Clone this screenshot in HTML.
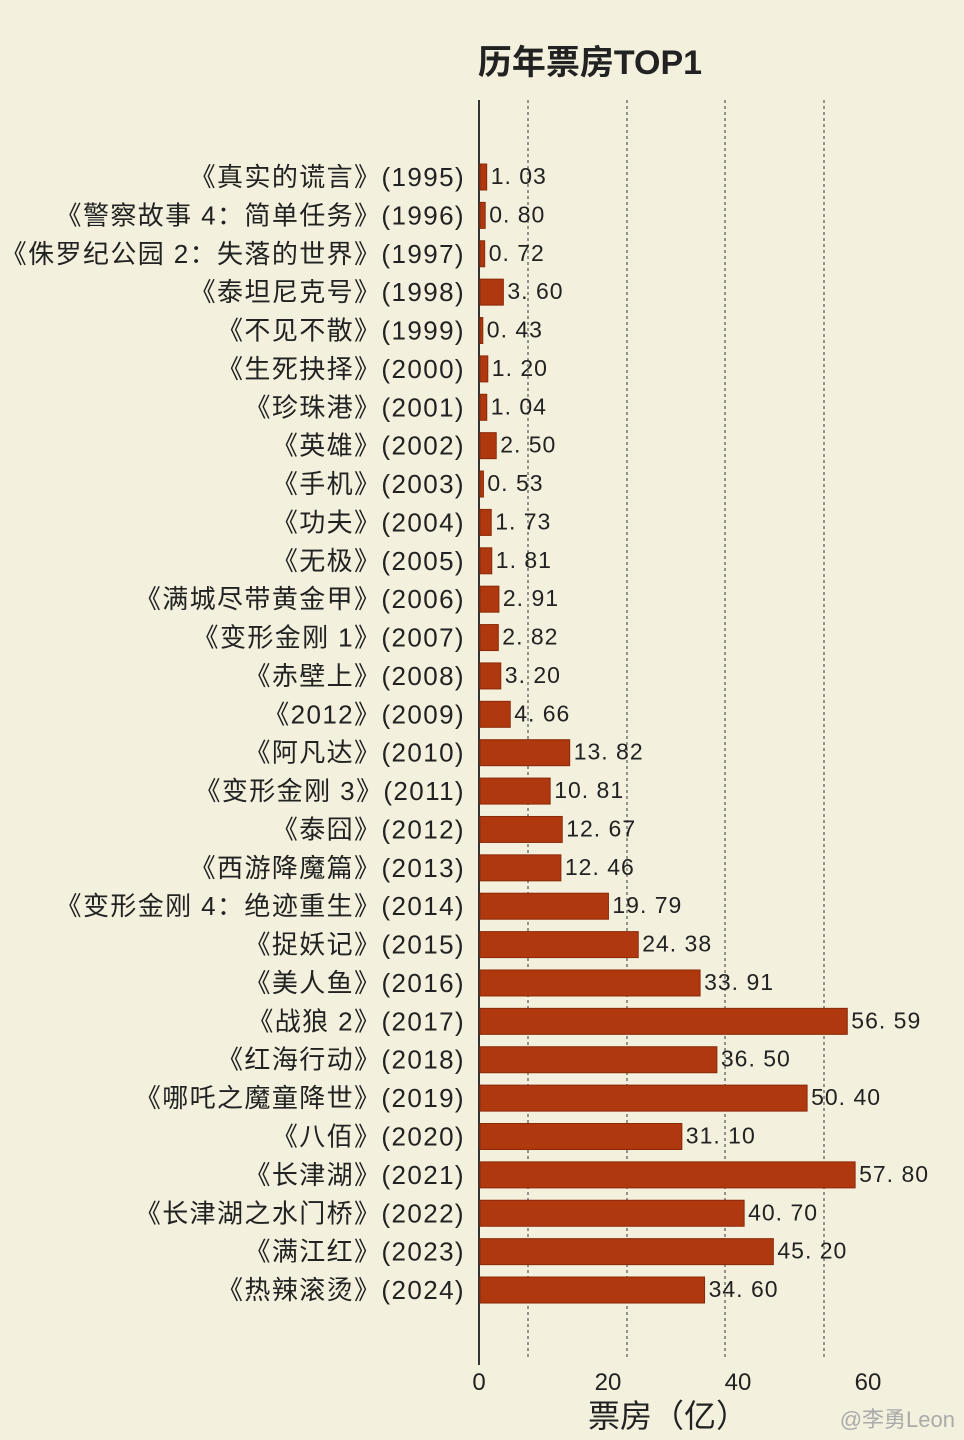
<!DOCTYPE html>
<html><head><meta charset="utf-8"><style>
html,body{margin:0;padding:0;background:#f3f0dd;}
svg{display:block}
text{font-family:"Liberation Sans","Noto Sans CJK SC",sans-serif;}
.b{fill:#b0380e;stroke:#8a2a08;stroke-width:1}
.l{font-size:26px;text-anchor:end;fill:#222;letter-spacing:1.4px}
.v{font-size:23px;fill:#222;letter-spacing:1px}
</style></head><body>
<svg width="964" height="1440" viewBox="0 0 964 1440">
<rect width="964" height="1440" fill="#f3f0dd"/>
<text x="590" y="74" font-size="34" font-weight="bold" text-anchor="middle" fill="#222">历年票房TOP1</text>
<g stroke="#555" stroke-width="1.2" stroke-dasharray="3,3">
<line x1="528" y1="100" x2="528" y2="1360"/>
<line x1="627" y1="100" x2="627" y2="1360"/>
<line x1="725" y1="100" x2="725" y2="1360"/>
<line x1="824" y1="100" x2="824" y2="1360"/>
</g>
<line x1="479" y1="100" x2="479" y2="1365" stroke="#333" stroke-width="2"/>

<g transform="translate(0,177)"><rect class="b" x="480" y="-13" width="6.68" height="26"/><text class="l" x="465" y="9">《真实的谎言》(1995)</text><text class="v" x="490.7" y="7">1. 03</text></g>
<g transform="translate(0,215.38)"><rect class="b" x="480" y="-13" width="5.19" height="26"/><text class="l" x="465" y="9">《警察故事 4：简单任务》(1996)</text><text class="v" x="489.2" y="7">0. 80</text></g>
<g transform="translate(0,253.76)"><rect class="b" x="480" y="-13" width="4.67" height="26"/><text class="l" x="465" y="9">《侏罗纪公园 2：失落的世界》(1997)</text><text class="v" x="488.7" y="7">0. 72</text></g>
<g transform="translate(0,292.14)"><rect class="b" x="480" y="-13" width="23.36" height="26"/><text class="l" x="465" y="9">《泰坦尼克号》(1998)</text><text class="v" x="507.4" y="7">3. 60</text></g>
<g transform="translate(0,330.52)"><rect class="b" x="480" y="-13" width="2.79" height="26"/><text class="l" x="465" y="9">《不见不散》(1999)</text><text class="v" x="486.8" y="7">0. 43</text></g>
<g transform="translate(0,368.9)"><rect class="b" x="480" y="-13" width="7.79" height="26"/><text class="l" x="465" y="9">《生死抉择》(2000)</text><text class="v" x="491.8" y="7">1. 20</text></g>
<g transform="translate(0,407.28)"><rect class="b" x="480" y="-13" width="6.75" height="26"/><text class="l" x="465" y="9">《珍珠港》(2001)</text><text class="v" x="490.8" y="7">1. 04</text></g>
<g transform="translate(0,445.66)"><rect class="b" x="480" y="-13" width="16.23" height="26"/><text class="l" x="465" y="9">《英雄》(2002)</text><text class="v" x="500.2" y="7">2. 50</text></g>
<g transform="translate(0,484.04)"><rect class="b" x="480" y="-13" width="3.44" height="26"/><text class="l" x="465" y="9">《手机》(2003)</text><text class="v" x="487.4" y="7">0. 53</text></g>
<g transform="translate(0,522.42)"><rect class="b" x="480" y="-13" width="11.23" height="26"/><text class="l" x="465" y="9">《功夫》(2004)</text><text class="v" x="495.2" y="7">1. 73</text></g>
<g transform="translate(0,560.8)"><rect class="b" x="480" y="-13" width="11.75" height="26"/><text class="l" x="465" y="9">《无极》(2005)</text><text class="v" x="495.8" y="7">1. 81</text></g>
<g transform="translate(0,599.18)"><rect class="b" x="480" y="-13" width="18.89" height="26"/><text class="l" x="465" y="9">《满城尽带黄金甲》(2006)</text><text class="v" x="502.9" y="7">2. 91</text></g>
<g transform="translate(0,637.56)"><rect class="b" x="480" y="-13" width="18.30" height="26"/><text class="l" x="465" y="9">《变形金刚 1》(2007)</text><text class="v" x="502.3" y="7">2. 82</text></g>
<g transform="translate(0,675.94)"><rect class="b" x="480" y="-13" width="20.77" height="26"/><text class="l" x="465" y="9">《赤壁上》(2008)</text><text class="v" x="504.8" y="7">3. 20</text></g>
<g transform="translate(0,714.32)"><rect class="b" x="480" y="-13" width="30.24" height="26"/><text class="l" x="465" y="9">《2012》(2009)</text><text class="v" x="514.2" y="7">4. 66</text></g>
<g transform="translate(0,752.7)"><rect class="b" x="480" y="-13" width="89.69" height="26"/><text class="l" x="465" y="9">《阿凡达》(2010)</text><text class="v" x="573.7" y="7">13. 82</text></g>
<g transform="translate(0,791.08)"><rect class="b" x="480" y="-13" width="70.16" height="26"/><text class="l" x="465" y="9">《变形金刚 3》(2011)</text><text class="v" x="554.2" y="7">10. 81</text></g>
<g transform="translate(0,829.46)"><rect class="b" x="480" y="-13" width="82.23" height="26"/><text class="l" x="465" y="9">《泰囧》(2012)</text><text class="v" x="566.2" y="7">12. 67</text></g>
<g transform="translate(0,867.84)"><rect class="b" x="480" y="-13" width="80.87" height="26"/><text class="l" x="465" y="9">《西游降魔篇》(2013)</text><text class="v" x="564.9" y="7">12. 46</text></g>
<g transform="translate(0,906.22)"><rect class="b" x="480" y="-13" width="128.44" height="26"/><text class="l" x="465" y="9">《变形金刚 4：绝迹重生》(2014)</text><text class="v" x="612.4" y="7">19. 79</text></g>
<g transform="translate(0,944.6)"><rect class="b" x="480" y="-13" width="158.23" height="26"/><text class="l" x="465" y="9">《捉妖记》(2015)</text><text class="v" x="642.2" y="7">24. 38</text></g>
<g transform="translate(0,982.98)"><rect class="b" x="480" y="-13" width="220.08" height="26"/><text class="l" x="465" y="9">《美人鱼》(2016)</text><text class="v" x="704.1" y="7">33. 91</text></g>
<g transform="translate(0,1021.36)"><rect class="b" x="480" y="-13" width="367.27" height="26"/><text class="l" x="465" y="9">《战狼 2》(2017)</text><text class="v" x="851.3" y="7">56. 59</text></g>
<g transform="translate(0,1059.74)"><rect class="b" x="480" y="-13" width="236.89" height="26"/><text class="l" x="465" y="9">《红海行动》(2018)</text><text class="v" x="720.9" y="7">36. 50</text></g>
<g transform="translate(0,1098.12)"><rect class="b" x="480" y="-13" width="327.10" height="26"/><text class="l" x="465" y="9">《哪吒之魔童降世》(2019)</text><text class="v" x="811.1" y="7">50. 40</text></g>
<g transform="translate(0,1136.5)"><rect class="b" x="480" y="-13" width="201.84" height="26"/><text class="l" x="465" y="9">《八佰》(2020)</text><text class="v" x="685.8" y="7">31. 10</text></g>
<g transform="translate(0,1174.88)"><rect class="b" x="480" y="-13" width="375.12" height="26"/><text class="l" x="465" y="9">《长津湖》(2021)</text><text class="v" x="859.1" y="7">57. 80</text></g>
<g transform="translate(0,1213.26)"><rect class="b" x="480" y="-13" width="264.14" height="26"/><text class="l" x="465" y="9">《长津湖之水门桥》(2022)</text><text class="v" x="748.1" y="7">40. 70</text></g>
<g transform="translate(0,1251.64)"><rect class="b" x="480" y="-13" width="293.35" height="26"/><text class="l" x="465" y="9">《满江红》(2023)</text><text class="v" x="777.4" y="7">45. 20</text></g>
<g transform="translate(0,1290.02)"><rect class="b" x="480" y="-13" width="224.55" height="26"/><text class="l" x="465" y="9">《热辣滚烫》(2024)</text><text class="v" x="708.6" y="7">34. 60</text></g>

<g font-size="24" fill="#222" text-anchor="middle">
<text x="479" y="1390">0</text><text x="608" y="1390">20</text><text x="738" y="1390">40</text><text x="868" y="1390">60</text>
</g>
<text x="668" y="1427" font-size="32" text-anchor="middle" fill="#222">票房（亿）</text>
<text x="955" y="1427" font-size="22" text-anchor="end" fill="#aaa">@李勇Leon</text>
</svg>
</body></html>
